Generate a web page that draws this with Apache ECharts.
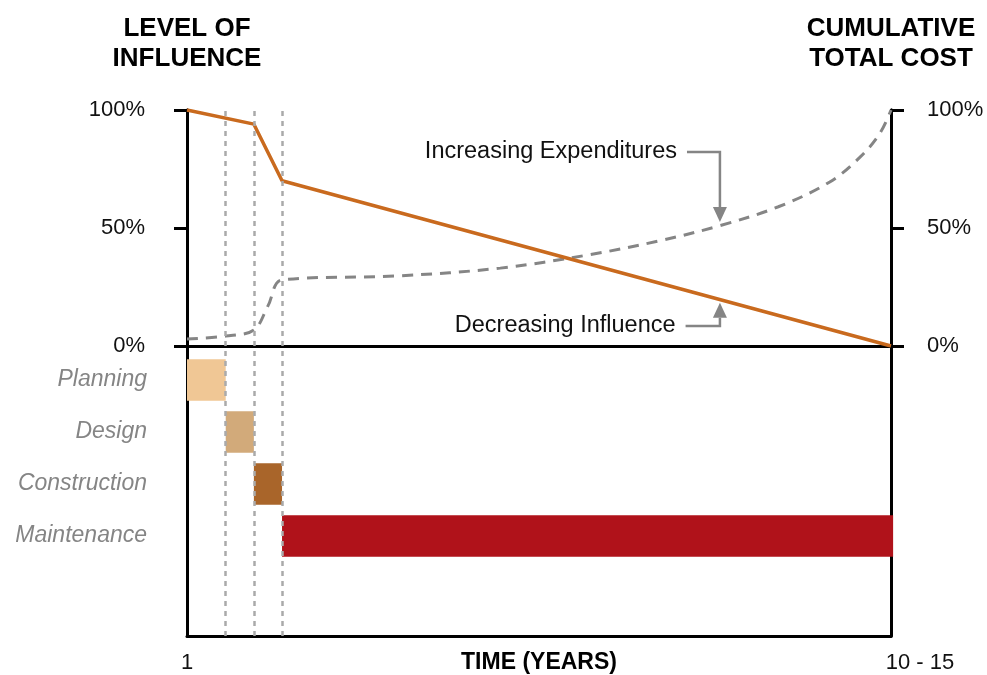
<!DOCTYPE html>
<html>
<head>
<meta charset="utf-8">
<script src="https://cdn.jsdelivr.net/npm/echarts@6/dist/echarts.min.js"></script>
<style>
  html, body { margin: 0; padding: 0; background: #fff; }
  #main { width: 987px; height: 675px; }
</style>
</head>
<body>
<div id="main"></div>
<script>
// timeline runs 0..100 (% of life, "1" to "10 - 15" years)
const phases = ['Planning', 'Design', 'Construction', 'Maintenance'];
const phaseStart = [0, 5.5, 9.5, 13.5];
const phaseEnd = [5.5, 9.5, 13.5, 100.3];
const phaseColors = ['#f0c795', '#d2aa7a', '#a9652a', '#b0121a'];
const dividers = [5.5, 9.5, 13.5];

const influenceX = [0, 9.5, 13.5, 100];
const influenceY = [100, 94, 70, 0];

const costX = [0, 5.5, 9.5, 11.5, 13.5, 30, 44.5, 57, 67, 75.7, 84, 91.3, 95.6, 98.4, 100];
const costY = [3, 4.2, 6.8, 17, 28, 29.7, 33, 38.6, 44.5, 51, 59, 69.5, 80, 90, 100];

const FONT = '"Liberation Sans", Arial, sans-serif';
const chart = echarts.init(document.getElementById('main'));

const black = { color: '#000', width: 3 };

const option = {
  backgroundColor: '#fff',
  animation: false,
  textStyle: { fontFamily: FONT },
  grid: [
    { left: 187, right: 96, top: 110, height: 236, outerBoundsMode: 'none' },   // influence / cost
    { left: 187, right: 96, top: 110, bottom: 39, outerBoundsMode: 'none' },    // frame + dividers
    { left: 187, right: 96, top: 354, height: 208, outerBoundsMode: 'none' }    // phase bars
  ],
  xAxis: [
    {
      gridIndex: 0, type: 'value', min: 0, max: 100,
      axisLine: { lineStyle: black }, axisTick: { show: false },
      axisLabel: { show: false }, splitLine: { show: false }
    },
    {
      gridIndex: 1, type: 'value', min: 0, max: 100, interval: 100,
      axisLine: { lineStyle: black }, axisTick: { show: false },
      splitLine: { show: false },
      axisLabel: {
        margin: 16, color: '#111', fontSize: 22, fontFamily: FONT,
        formatter: v => v === 0 ? '1' : '{r|10 - 15}',
        rich: { r: { fontSize: 22, fontFamily: FONT, color: '#111', padding: [0, 0, 0, 58] } }
      },
      name: 'TIME (YEARS)', nameLocation: 'middle', nameGap: 15, nameMoveOverlap: false,
      nameTextStyle: { fontSize: 23, fontWeight: 'bold', color: '#000', fontFamily: FONT }
    },
    {
      gridIndex: 2, type: 'value', min: 0, max: 100, show: false
    }
  ],
  yAxis: [
    {
      gridIndex: 0, type: 'value', min: 0, max: 100, interval: 50, position: 'left',
      axisLine: { show: true, lineStyle: black },
      axisTick: { show: true, length: 13, lineStyle: black },
      axisLabel: { margin: 42, fontSize: 22, color: '#111', formatter: '{value}%', fontFamily: FONT },
      splitLine: { show: false },
      name: 'LEVEL OF\nINFLUENCE', nameLocation: 'end', nameGap: 36,
      nameTextStyle: { fontSize: 26, fontWeight: 'bold', color: '#000', lineHeight: 30,
        align: 'center', verticalAlign: 'bottom', fontFamily: FONT }
    },
    {
      gridIndex: 0, type: 'value', min: 0, max: 100, interval: 50, position: 'right',
      axisLine: { show: true, lineStyle: black },
      axisTick: { show: true, length: 13, lineStyle: black },
      axisLabel: { margin: 36, fontSize: 22, color: '#111', formatter: '{value}%', fontFamily: FONT },
      splitLine: { show: false },
      name: 'CUMULATIVE\nTOTAL COST', nameLocation: 'end', nameGap: 36,
      nameTextStyle: { fontSize: 26, fontWeight: 'bold', color: '#000', lineHeight: 30,
        align: 'center', verticalAlign: 'bottom', fontFamily: FONT }
    },
    {
      gridIndex: 1, type: 'value', min: 0, max: 1, position: 'left',
      axisLine: { show: true, lineStyle: black }, axisTick: { show: false },
      axisLabel: { show: false }, splitLine: { show: false }
    },
    {
      gridIndex: 1, type: 'value', min: 0, max: 1, position: 'right',
      axisLine: { show: true, lineStyle: black }, axisTick: { show: false },
      axisLabel: { show: false }, splitLine: { show: false }
    },
    {
      gridIndex: 2, type: 'category', data: phases, inverse: true,
      axisLine: { show: false }, axisTick: { show: false }, splitLine: { show: false },
      axisLabel: { margin: 40, fontSize: 23, fontStyle: 'italic', color: '#858585', fontFamily: FONT }
    }
  ],
  series: [
    {
      name: 'dividers', type: 'line', xAxisIndex: 1, yAxisIndex: 2,
      data: [], silent: true,
      markLine: {
        symbol: 'none', silent: true, label: { show: false },
        lineStyle: { color: '#aaaaaa', width: 2.5, type: [5, 5] },
        data: dividers.map(v => ({ xAxis: v }))
      },
      z: 1
    },
    {
      name: 'phases', type: 'custom', xAxisIndex: 2, yAxisIndex: 4,
      data: phases.map((p, i) => [i, phaseStart[i], phaseEnd[i]]),
      encode: { x: [1, 2], y: 0 },
      renderItem: function (params, api) {
        const row = api.value(0);
        const s = api.coord([api.value(1), row]);
        const e = api.coord([api.value(2), row]);
        const h = api.size([0, 1])[1] * 0.8;
        return {
          type: 'rect',
          shape: { x: s[0], y: s[1] - h / 2, width: e[0] - s[0], height: h },
          style: { fill: phaseColors[row] }
        };
      },
      z: 2
    },
    {
      name: 'Cumulative cost', type: 'line', xAxisIndex: 0, yAxisIndex: 0,
      data: costX.map((x, i) => [x, costY[i]]),
      smooth: 0.35, showSymbol: false,
      lineStyle: { color: '#858585', width: 3, type: [11, 8] },
      z: 3
    },
    {
      name: 'Influence', type: 'line', xAxisIndex: 0, yAxisIndex: 0,
      data: influenceX.map((x, i) => [x, influenceY[i]]),
      showSymbol: false,
      lineStyle: { color: '#c96a1e', width: 3.5 },
      z: 4
    }
  ]
};

chart.setOption(option);

// callout arrows, anchored to the data coordinates
const px = p => chart.convertToPixel({ gridIndex: 0 }, p);
const grey = '#858585';
function callout(text, textPt, elbowX, tipY, down) {
  const a = px(textPt);
  const b = px([elbowX, textPt[1]]);
  const tip = px([elbowX, tipY]);
  const headLen = 15, headW = 7;
  const baseY = down ? tip[1] - headLen : tip[1] + headLen;
  return [
    {
      type: 'text', x: a[0], y: a[1],
      style: { text: text, fill: '#111', font: '23.5px ' + FONT, align: 'right', verticalAlign: 'middle' }
    },
    {
      type: 'polyline',
      shape: { points: [[a[0] + 10, a[1]], [b[0], b[1]], [b[0], baseY]] },
      style: { stroke: grey, lineWidth: 2.5, fill: null }
    },
    {
      type: 'polygon',
      shape: { points: [[tip[0] - headW, baseY], [tip[0] + headW, baseY], [tip[0], tip[1]]] },
      style: { fill: grey }
    }
  ];
}

chart.setOption({
  graphic: [
    ...callout('Increasing Expenditures', [69.6, 82.2], 75.7, 52.5, true),
    ...callout('Decreasing Influence', [69.4, 8.5], 75.7, 18.3, false)
  ]
});
</script>
</body>
</html>
